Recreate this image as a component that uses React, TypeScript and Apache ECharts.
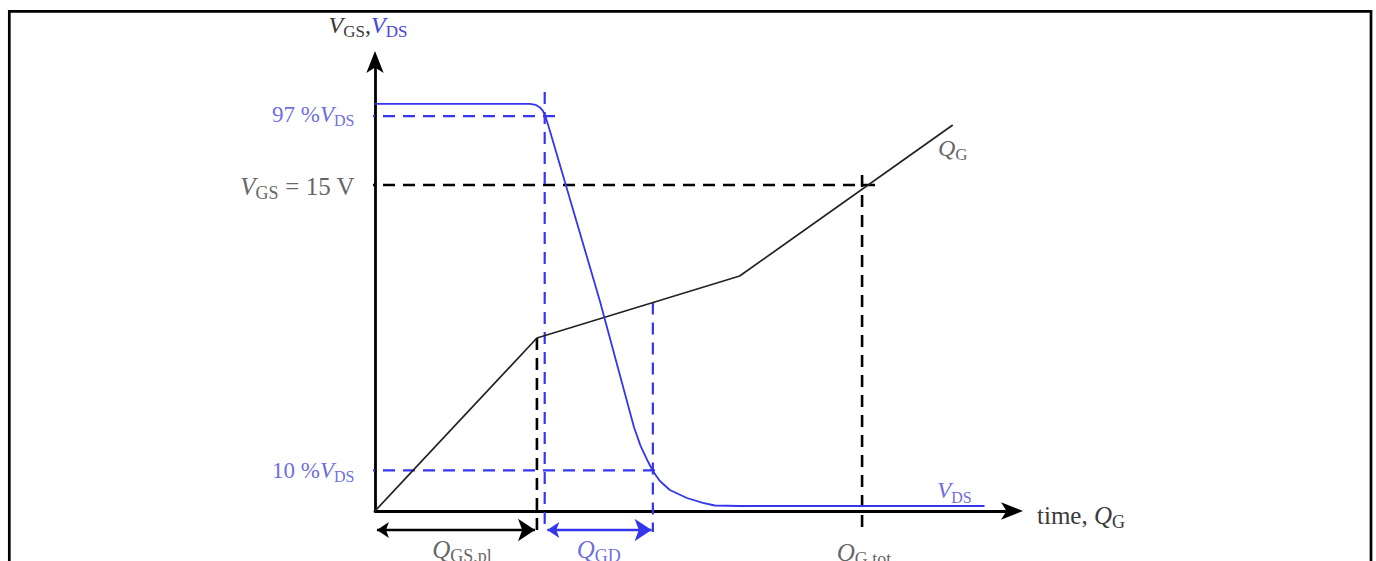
import React, { useEffect, useRef } from "react";
import * as echarts from "echarts";

// ---- data (x: time / charge units, VGS in volts, VDS in % of VDS) ----
const qgX = [0, 25.0, 56.3, 89.2];
const qgV = [0, 7.96, 10.81, 17.76];

const vdsX = [0, 23.9, 24.85, 25.46, 25.93, 26.39, 27.01, 34.72, 40.0, 41.0, 42.0, 42.9, 43.98, 45.52, 48.15, 50.62, 52.47, 56.33, 94.1];
const vdsPct = [100, 100, 99.75, 99.14, 98.28, 96.56, 93.37, 51.6, 20.5, 16.0, 12.6, 9.83, 7.37, 5.16, 3.19, 1.97, 1.35, 1.23, 1.23];

const VGS_LEVEL = 15; // V
const VDS_HIGH = 97; // %
const VDS_LOW = 10; // %
const QGS_PL = 25.0;
const QGD_START = 26.2;
const QGD_END = 42.9;
const QG_TOT = 75.2;

// guide-line extents
const GUIDE_LEFT = -1.85;
const GUIDE_BOTTOM = -0.97; // VGS units, below the time axis
const ARROW_LEVEL = -0.874;
const HIGH_GUIDE_END = 28.1;
const VGS_GUIDE_END = 78.2;
const LOW_GUIDE_END = 43.7;
const QGD_START_TOP = 19.28;
const QG_TOT_TOP = 15.46;
const QG_TOT_BOTTOM = -1.1;

const SERIF = "'Liberation Serif', 'DejaVu Serif', serif";
const BLUE = "#3535ee";
const BLUE_TXT = "#4646d8";
const INK = "#222222";
const TXT = "#3a3a3a";

function qgAt(x: number) {
  for (let i = 1; i < qgX.length; i++) {
    if (x <= qgX[i]) {
      const t = (x - qgX[i - 1]) / (qgX[i] - qgX[i - 1]);
      return qgV[i - 1] + t * (qgV[i] - qgV[i - 1]);
    }
  }
  return qgV[qgV.length - 1];
}

function rich(size: number, color: string, color2?: string) {
  const c2 = color2 || color;
  const sub = Math.round(size * 0.7);
  return {
    i: { fontFamily: SERIF, fontStyle: "italic", fontSize: size, color, lineHeight: size + 6 },
    s: { fontFamily: SERIF, fontSize: sub, color, verticalAlign: "bottom", lineHeight: sub },
    n: { fontFamily: SERIF, fontSize: size, color, lineHeight: size + 6 },
    bi: { fontFamily: SERIF, fontStyle: "italic", fontSize: size, color: c2, lineHeight: size + 6 },
    bs: { fontFamily: SERIF, fontSize: sub, color: c2, verticalAlign: "bottom", lineHeight: sub },
  };
}

function guide(points: number[][], color: string, yAxisIndex: number, width: number) {
  return {
    type: "line",
    data: points,
    xAxisIndex: 0,
    yAxisIndex,
    symbol: "none",
    clip: false,
    silent: true,
    z: 2,
    lineStyle: { color, width, type: [12, 8] },
  };
}

function note(
  xy: number[],
  yAxisIndex: number,
  text: string,
  r: any,
  position: string,
  distance: number,
  offset: number[] = [0, 0]
) {
  return {
    type: "scatter",
    xAxisIndex: 0,
    yAxisIndex,
    clip: false,
    silent: true,
    symbol: "circle",
    symbolSize: 1,
    itemStyle: { color: "rgba(0,0,0,0)" },
    z: 5,
    data: [
      {
        value: xy,
        label: { show: true, position, distance, offset, formatter: text, rich: r },
      },
    ],
  };
}

export default function App() {
  const ref = useRef<HTMLDivElement>(null);
  useEffect(() => {
    if (!ref.current) return;
    const chart = echarts.init(ref.current, undefined, { renderer: "svg" });
    const qgEnd = [qgX[qgX.length - 1], qgV[qgV.length - 1]];
    const vdsEnd = [vdsX[vdsX.length - 1], vdsPct[vdsPct.length - 1]];
    const option: any = {
      animation: false,
      backgroundColor: "#ffffff",
      grid: { left: 375, top: 60, right: 363, bottom: 50, containLabel: false },
      xAxis: {
        type: "value",
        min: 0,
        max: 98.5,
        axisLine: {
          show: true,
          symbol: ["none", "arrow"],
          symbolSize: [13, 22],
          symbolOffset: [0, 10],
          lineStyle: { color: "#000", width: 2.8 },
        },
        axisTick: { show: false },
        axisLabel: { show: false },
        splitLine: { show: false },
        name: "{n|time, }{i|Q}{s|G}",
        nameLocation: "end",
        nameGap: 24,
        nameTextStyle: { rich: rich(25, TXT), padding: [8, 0, 0, 0] },
      },
      yAxis: [
        {
          type: "value",
          min: 0,
          max: 20.75,
          axisLine: {
            show: true,
            symbol: ["none", "arrow"],
            symbolSize: [13, 22],
            symbolOffset: [0, 9],
            lineStyle: { color: "#000", width: 2.8 },
          },
          axisTick: { show: false },
          axisLabel: { show: false },
          splitLine: { show: false },
          name: "{i|V}{s|GS}{n|,}{bi|V}{bs|DS}",
          nameLocation: "end",
          nameGap: 20,
          nameTextStyle: { rich: rich(24, TXT, BLUE_TXT), padding: [0, 14, 0, 0] },
        },
        {
          type: "value",
          show: false,
          min: 0,
          max: 110.8,
          position: "left",
          splitLine: { show: false },
        },
      ],
      graphic: [
        {
          type: "polyline",
          shape: { points: [[9.3, 575], [9.3, 11.3], [1371, 11.3], [1371, 575]] },
          style: { stroke: "#000", lineWidth: 2.7, fill: "none" },
          silent: true,
        },
      ],
      series: [
        // horizontal guides
        guide([[GUIDE_LEFT, VDS_HIGH], [HIGH_GUIDE_END, VDS_HIGH]], BLUE, 1, 2.2),
        guide([[GUIDE_LEFT, VGS_LEVEL], [VGS_GUIDE_END, VGS_LEVEL]], "#000", 0, 2.6),
        guide([[GUIDE_LEFT, VDS_LOW], [LOW_GUIDE_END, VDS_LOW]], BLUE, 1, 2.2),
        // vertical guides
        guide([[QGS_PL, qgAt(QGS_PL)], [QGS_PL, GUIDE_BOTTOM]], "#000", 0, 2.6),
        guide([[QGD_START, QGD_START_TOP], [QGD_START, GUIDE_BOTTOM]], BLUE, 0, 2.2),
        guide([[QGD_END, qgAt(QGD_END)], [QGD_END, GUIDE_BOTTOM]], BLUE, 0, 2.2),
        guide([[QG_TOT, QG_TOT_TOP], [QG_TOT, QG_TOT_BOTTOM]], "#000", 0, 2.6),
        // Q_G curve
        {
          type: "line",
          data: qgX.map((x, i) => [x, qgV[i]]),
          xAxisIndex: 0,
          yAxisIndex: 0,
          symbol: "none",
          clip: false,
          z: 3,
          lineStyle: { color: INK, width: 1.7 },
        },
        // V_DS curve
        {
          type: "line",
          data: vdsX.map((x, i) => [x, vdsPct[i]]),
          xAxisIndex: 0,
          yAxisIndex: 1,
          symbol: "none",
          clip: false,
          z: 3,
          lineStyle: { color: BLUE, width: 1.8 },
        },
        // charge interval arrows
        {
          type: "lines",
          coordinateSystem: "cartesian2d",
          xAxisIndex: 0,
          yAxisIndex: 0,
          clip: false,
          silent: true,
          symbol: ["arrow", "arrow"],
          symbolSize: [12, 17],
          z: 4,
          data: [
            {
              coords: [[0.3, ARROW_LEVEL], [QGS_PL - 0.3, ARROW_LEVEL]],
              lineStyle: { color: "#000", width: 2.4, opacity: 1 },
            },
            {
              coords: [[QGD_START + 0.4, ARROW_LEVEL], [QGD_END - 0.2, ARROW_LEVEL]],
              lineStyle: { color: BLUE, width: 2.4, opacity: 1 },
            },
          ],
        },
        // text annotations
        note([GUIDE_LEFT, VDS_HIGH], 1, "{n|97 %}{i|V}{s|DS}", rich(23, BLUE_TXT), "left", 8, [0, -2]),
        note([GUIDE_LEFT, VGS_LEVEL], 0, "{i|V}{s|GS}{n| = 15 V}", rich(25, TXT), "left", 8, [0, 2]),
        note([GUIDE_LEFT, VDS_LOW], 1, "{n|10 %}{i|V}{s|DS}", rich(23, BLUE_TXT), "left", 8, [0, 0]),
        note([QGS_PL / 2, ARROW_LEVEL], 0, "{i|Q}{s|GS,pl}", rich(25, TXT), "bottom", 4, [6, 0]),
        note([(QGD_START + QGD_END) / 2, ARROW_LEVEL], 0, "{i|Q}{s|GD}", rich(25, BLUE_TXT), "bottom", 4, [0, 0]),
        note([QG_TOT, QG_TOT_BOTTOM], 0, "{i|Q}{s|G,tot}", rich(25, TXT), "bottom", 2, [2, 0]),
        note(qgEnd, 0, "{i|Q}{s|G}", rich(24, TXT), "bottom", 8, [0, 0]),
        note(vdsEnd, 1, "{i|V}{s|DS}", rich(23, BLUE_TXT), "top", 0, [-30, 0]),
      ],
    };
    chart.setOption(option);
    return () => chart.dispose();
  }, []);
  return (
    <div
      ref={ref}
      style={{ position: "fixed", left: 0, top: 0, width: 1376, height: 561, background: "#fff" }}
    />
  );
}
